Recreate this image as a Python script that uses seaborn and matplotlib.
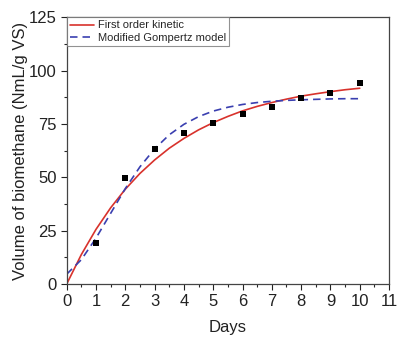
import numpy as np
import pandas as pd
import matplotlib
matplotlib.use("Agg")
import matplotlib.pyplot as plt
import seaborn as sns
from matplotlib.ticker import MultipleLocator

# measured points
days = [1, 2, 3, 4, 5, 6, 7, 8, 9, 10]
biomethane = [19.4, 49.8, 63.2, 70.7, 75.4, 79.4, 82.7, 86.9, 89.6, 94.0]

# fitted curves, every half day
t_fit = [0, 0.5, 1, 1.5, 2, 2.5, 3, 3.5, 4, 4.5, 5, 5.5, 6, 6.5, 7, 7.5, 8, 8.5, 9, 9.5, 10]
first_order = [0, 13.8, 25.6, 35.7, 44.4, 51.8, 58.1, 63.6, 68.2, 72.2, 75.6, 78.5,
               81.1, 83.2, 85.0, 86.6, 88.0, 89.1, 90.1, 91.0, 91.7]
gompertz = [4.6, 11.4, 21.5, 33.1, 44.7, 54.9, 63.3, 69.9, 74.8, 78.4, 81.0, 82.8,
            84.1, 85.0, 85.6, 86.0, 86.3, 86.5, 86.7, 86.8, 86.8]

sns.set_style("ticks")
plt.rcParams["font.family"] = ["Liberation Sans", "DejaVu Sans"]

fig = plt.figure(figsize=(3.97, 3.43), dpi=100)
ax = fig.add_axes([0.168, 0.172, 0.812, 0.778])

fits = pd.DataFrame({"t": t_fit, "first": first_order, "gomp": gompertz})
pts = pd.DataFrame({"day": days, "vol": biomethane})

sns.lineplot(data=fits, x="t", y="first", ax=ax, color="#d8322c", lw=1.2,
             label="First order kinetic")
sns.lineplot(data=fits, x="t", y="gomp", ax=ax, color="#3a3fb0", lw=1.2,
             linestyle=(0, (4.5, 3)), label="Modified Gompertz model")
sns.scatterplot(data=pts, x="day", y="vol", ax=ax, marker="s", color="black",
                s=22, edgecolor="black", linewidth=0, zorder=5)

ax.set_xlim(0, 11)
ax.set_ylim(0, 125)
ax.xaxis.set_major_locator(MultipleLocator(1))
ax.xaxis.set_minor_locator(MultipleLocator(0.5))
ax.yaxis.set_major_locator(MultipleLocator(25))
ax.yaxis.set_minor_locator(MultipleLocator(12.5))
ax.tick_params(which="major", direction="out", length=4, width=0.8, labelsize=12,
               colors="#222222", pad=3)
ax.tick_params(which="minor", direction="out", length=2.5, width=0.8)
for s in ax.spines.values():
    s.set_color("#444444")
    s.set_linewidth(0.9)

ax.set_xlabel("Days", fontsize=12, color="#222222", labelpad=8)
ax.set_ylabel("Volume of biomethane (NmL/g VS)", fontsize=12, color="#222222", labelpad=1)

leg = ax.legend(loc="upper left", borderaxespad=0, fancybox=False, fontsize=8,
                handlelength=2.2, borderpad=0.3, labelspacing=0.2, handletextpad=0.3)
leg.get_frame().set_edgecolor("#777777")
leg.get_frame().set_linewidth(0.8)

fig.savefig("out.png", dpi=100)
